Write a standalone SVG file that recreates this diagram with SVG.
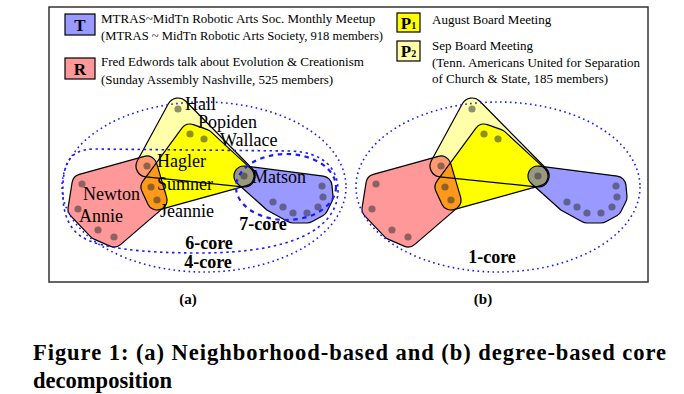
<svg xmlns="http://www.w3.org/2000/svg" width="684" height="394" viewBox="0 0 684 394">
<style>
.lg{font-family:"Liberation Serif","Times New Roman",serif;font-size:13px;fill:#000}
.bx{stroke:#000;stroke-width:1.2}
.bl{font-family:"Liberation Serif","Times New Roman",serif;font-weight:bold;font-size:17px;text-anchor:middle;fill:#000}
.nm{font-family:"Liberation Serif","Times New Roman",serif;font-size:18px;fill:#000}
.cr{font-family:"Liberation Serif","Times New Roman",serif;font-weight:bold;font-size:18px;text-anchor:middle;fill:#000}
.cap{font-family:"Liberation Serif","Times New Roman",serif;font-weight:bold;fill:#000}
.ol{fill:none;stroke:#000;stroke-width:1.2;stroke-linejoin:round}
.nd{fill:#333;fill-opacity:.55}
.e4{fill:none;stroke:#1a1aff;stroke-width:1.6;stroke-dasharray:1.6 3.4}
.e6{fill:none;stroke:#1a1aff;stroke-width:1.6;stroke-dasharray:2.5 3.5}
.e7{fill:none;stroke:#1a1aff;stroke-width:2.2;stroke-dasharray:4.5 4.5}
</style>
<defs>
<path id="pP2" d="M168.34,103.74 A11,11 0 0 1 185.84,101.28 L251.84,168.28 A11,11 0 0 1 242.87,186.94 L145.87,176.94 A11,11 0 0 1 137.34,160.74 Z"/>
<path id="pP1" d="M181.94,128.07 A10,10 0 0 1 193.36,124.58 L207.36,129.58 A10,10 0 0 1 210.79,131.66 L250.79,168.66 A10,10 0 0 1 246.66,185.64 L159.66,209.64 A10,10 0 0 1 147.92,204.19 L141.92,191.19 A10,10 0 0 1 142.94,181.07 Z"/>
<path id="pR" d="M72.13,182.42 A10,10 0 0 1 79.33,174.36 L144.33,156.36 A10,10 0 0 1 156.59,163.18 L166.59,197.18 A10,10 0 0 1 163.52,207.58 L120.52,244.58 A10,10 0 0 1 109.99,246.16 L93.99,239.16 A10,10 0 0 1 90.76,236.90 L70.76,215.90 A10,10 0 0 1 68.13,207.42 Z"/>
<path id="pT" d="M237.32,183.45 A10,10 0 0 1 245.27,166.08 L323.27,176.08 A10,10 0 0 1 331.95,185.10 L332.95,196.10 A10,10 0 0 1 331.94,201.47 L326.94,211.47 A10,10 0 0 1 322.79,215.78 L311.79,221.78 A10,10 0 0 1 307,223 L293,223 A10,10 0 0 1 288.18,221.76 L268.18,210.76 A10,10 0 0 1 266.32,209.45 Z"/>
</defs>

<rect x="49" y="7" width="599" height="275" fill="#fff" stroke="#333" stroke-width="1.5"/>

<g id="legend">
  <g id="legend-T">
    <rect class="bx" x="65" y="14" width="30" height="21" fill="#9999ff"/>
    <text class="bl" x="80" y="31">T</text>
    <text class="lg" x="101" y="23">MTRAS~MidTn Robotic Arts Soc. Monthly Meetup</text>
    <text class="lg" x="101" y="40" textLength="282" lengthAdjust="spacingAndGlyphs">(MTRAS ~ MidTn Robotic Arts Society, 918 members)</text>
  </g>
  <g id="legend-R">
    <rect class="bx" x="65" y="58" width="30" height="21" fill="#ff9999"/>
    <text class="bl" x="80" y="75">R</text>
    <text class="lg" x="101" y="66">Fred Edwords talk about Evolution &amp; Creationism</text>
    <text class="lg" x="101" y="84">(Sunday Assembly Nashville, 525 members)</text>
  </g>
  <g id="legend-P1">
    <rect class="bx" x="397" y="13" width="23" height="19" fill="#ffff00"/>
    <text class="bl" x="408.5" y="29">P<tspan font-size="10">1</tspan></text>
    <text class="lg" x="432" y="24">August Board Meeting</text>
  </g>
  <g id="legend-P2">
    <rect class="bx" x="397" y="41" width="23" height="20" fill="#ffffaa"/>
    <text class="bl" x="408.5" y="57">P<tspan font-size="10">2</tspan></text>
    <text class="lg" x="432" y="50">Sep Board Meeting</text>
    <text class="lg" x="432" y="67">(Tenn. Americans United for Separation</text>
    <text class="lg" x="432" y="83">of Church &amp; State, 185 members)</text>
  </g>
</g>

<g id="hypergraph-a">
  <g id="edge-P2"><use href="#pP2" fill="#ffffaa"/></g>
  <g id="edge-P1"><use href="#pP1" fill="#ffff00"/></g>
  <g id="edge-R"><use href="#pR" fill="#ff3333" fill-opacity="0.5"/></g>
  <g id="edge-T"><use href="#pT" fill="#3333ff" fill-opacity="0.5"/></g>
  <g id="outlines">
    <use href="#pP2" class="ol"/>
    <use href="#pP1" class="ol"/>
    <use href="#pR" class="ol"/>
    <use href="#pT" class="ol"/>
  </g>
  <g id="nodes">
    <g id="n-hall"><circle class="nd" cx="178" cy="109" r="3.6"/></g>
    <g id="n-popiden"><circle class="nd" cx="190" cy="134" r="3.6"/><circle class="nd" cx="204" cy="139" r="3.6"/></g>
    <g id="n-hagler"><circle class="nd" cx="147" cy="166" r="3.6"/></g>
    <g id="n-sumner"><circle class="nd" cx="151" cy="187" r="3.6"/><circle class="nd" cx="157" cy="200" r="3.6"/></g>
    <g id="n-matson"><circle class="nd" cx="244" cy="176" r="3.6"/></g>
    <g id="n-newton"><circle class="nd" cx="82" cy="184" r="3.6"/><circle class="nd" cx="78" cy="209" r="3.6"/><circle class="nd" cx="98" cy="230" r="3.6"/><circle class="nd" cx="114" cy="237" r="3.6"/></g>
    <g id="n-blue"><circle class="nd" cx="273" cy="202" r="3.6"/><circle class="nd" cx="283" cy="207" r="3.6"/><circle class="nd" cx="293" cy="213" r="3.6"/><circle class="nd" cx="307" cy="213" r="3.6"/><circle class="nd" cx="318" cy="207" r="3.6"/><circle class="nd" cx="323" cy="197" r="3.6"/><circle class="nd" cx="322" cy="186" r="3.6"/></g>
  </g>
</g>

<g id="cores-a">
  <ellipse id="core4" class="e4" cx="204" cy="187" rx="142" ry="85"/>
  <path id="core6" class="e6" d="M63,195 C62,165 68,149 95,149 L290,151 C325,152 338,170 338,190 C338,230 290,253 200,253 C140,253 100,248 82,237 C68,228 63,212 63,195 Z"/>
  <ellipse id="core7" class="e7" cx="286" cy="187" rx="50" ry="33"/>
</g>

<g id="labels-a">
  <text class="nm" x="185" y="110">Hall</text>
  <text class="nm" x="198" y="128">Popiden</text>
  <text class="nm" x="220" y="146">Wallace</text>
  <text class="nm" x="157" y="167">Hagler</text>
  <text class="nm" x="157" y="190">Sumner</text>
  <text class="nm" x="160" y="217">Jeannie</text>
  <text class="nm" x="83" y="200">Newton</text>
  <text class="nm" x="79" y="222">Annie</text>
  <text class="nm" x="252" y="183">Matson</text>
  <text class="cr" x="263" y="230">7-core</text>
  <text class="cr" x="209" y="249">6-core</text>
  <text class="cr" x="208" y="268">4-core</text>
</g>

<g id="hypergraph-b">
  <use href="#hypergraph-a" x="294" y="0"/>
  <ellipse id="core1" class="e4" cx="498" cy="187" rx="142" ry="85"/>
  <text class="cr" x="492" y="263">1-core</text>
</g>

<g id="captions">
  <text class="cap" x="188" y="304" font-size="15" text-anchor="middle">(a)</text>
  <text class="cap" x="483" y="304" font-size="15" text-anchor="middle">(b)</text>
  <g transform="scale(0.94 1)">
    <text class="cap" x="35.1" y="360" font-size="24" textLength="673.4" lengthAdjust="spacing">Figure 1: (a) Neighborhood-based and (b) degree-based core</text>
    <text class="cap" x="35.1" y="388" font-size="24">decomposition</text>
  </g>
</g>
</svg>
